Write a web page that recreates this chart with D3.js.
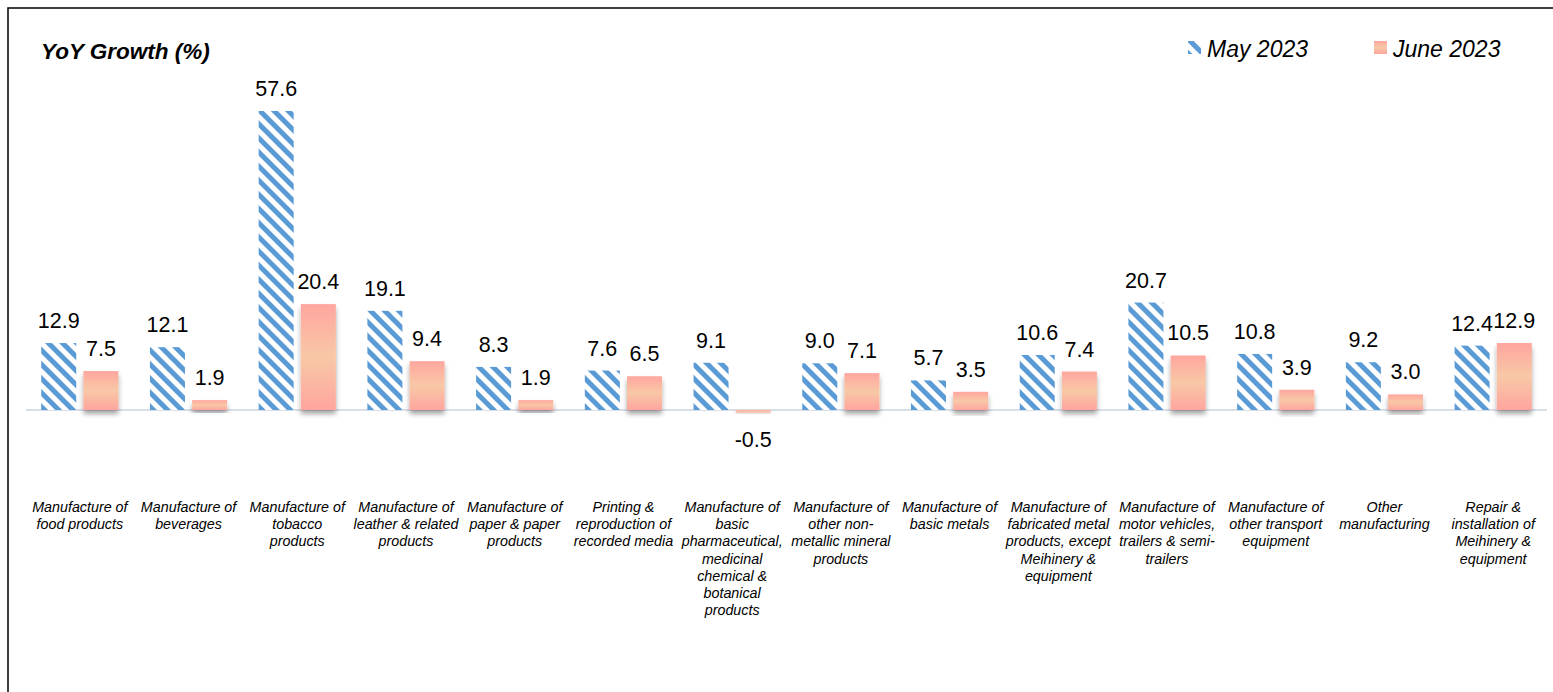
<!DOCTYPE html>
<html><head><meta charset="utf-8">
<script src="https://cdn.jsdelivr.net/npm/d3@7"></script>
<style>html,body{margin:0;padding:0;background:#fff;}svg{display:block;font-family:"Liberation Sans",Arial,sans-serif;}</style>
</head><body>
<svg id="chart" width="1553" height="692"></svg>
<script>
const categories = [
  ["Manufacture of","food products"],
  ["Manufacture of","beverages"],
  ["Manufacture of","tobacco","products"],
  ["Manufacture of","leather & related","products"],
  ["Manufacture of","paper & paper","products"],
  ["Printing &","reproduction of","recorded media"],
  ["Manufacture of","basic","pharmaceutical,","medicinal","chemical &","botanical","products"],
  ["Manufacture of","other non-","metallic mineral","products"],
  ["Manufacture of","basic metals"],
  ["Manufacture of","fabricated metal","products, except","Meihinery &","equipment"],
  ["Manufacture of","motor vehicles,","trailers & semi-","trailers"],
  ["Manufacture of","other transport","equipment"],
  ["Other","manufacturing"],
  ["Repair &","installation of","Meihinery &","equipment"]
];
const seriesNames = ["May 2023","June 2023"];
const may2023 = [12.9,12.1,57.6,19.1,8.3,7.6,9.1,9.0,5.7,10.6,20.7,10.8,9.2,12.4];
const june2023 = [7.5,1.9,20.4,9.4,1.9,6.5,-0.5,7.1,3.5,7.4,10.5,3.9,3.0,12.9];
const titleText = "YoY Growth (%)";

const svg = d3.select("#chart");
const defs = svg.append("defs");
const pat = defs.append("pattern").attr("id","hatch").attr("patternUnits","userSpaceOnUse")
  .attr("width",10).attr("height",10).attr("patternTransform","rotate(-45)");
pat.append("rect").attr("width",10).attr("height",10).attr("fill","#fff");
pat.append("rect").attr("x",0).attr("width",5).attr("height",10).attr("fill","#5B9BD5");
const grad = defs.append("linearGradient").attr("id","pinkGrad").attr("x1",0).attr("y1",0).attr("x2",0).attr("y2",1);
grad.append("stop").attr("offset","0%").attr("stop-color","#FFA69F");
grad.append("stop").attr("offset","50%").attr("stop-color","#F8C8A6");
grad.append("stop").attr("offset","100%").attr("stop-color","#FFA59F");
const filt = defs.append("filter").attr("id","shadow").attr("x","-20%").attr("y","-20%").attr("width","140%").attr("height","150%");
filt.append("feDropShadow").attr("dx",0).attr("dy",4).attr("stdDeviation",2.5).attr("flood-color","#000").attr("flood-opacity",0.35);

// border
svg.append("rect").attr("x",8).attr("y",8).attr("width",1600).attr("height",720)
  .attr("fill","none").attr("stroke","#000").attr("stroke-width",1.5);

const idx = d3.range(categories.length);
const x0 = d3.scaleBand().domain(idx).range([26,1547]).paddingInner(0.29).paddingOuter(0.14);
const x1 = d3.scaleBand().domain(seriesNames).range([0,x0.bandwidth()]).paddingInner(0.17);
const y = d3.scaleLinear().domain([0,57.6]).range([410,111]);

const data = idx.map(i => ({i, vals:[may2023[i], june2023[i]]}));

// zero line
svg.append("line").attr("x1",26).attr("x2",1547).attr("y1",y(0)).attr("y2",y(0))
  .attr("stroke","#D9DFE8").attr("stroke-width",2);

const g = svg.selectAll("g.grp").data(data).join("g").attr("class","grp")
  .attr("transform", d => `translate(${x0(d.i)},0)`);

g.append("rect")
  .attr("x", x1(seriesNames[0])).attr("width", x1.bandwidth())
  .attr("y", d => y(Math.max(0,d.vals[0]))).attr("height", d => Math.abs(y(d.vals[0])-y(0)))
  .attr("fill","url(#hatch)");
g.append("rect")
  .attr("x", x1(seriesNames[1])).attr("width", x1.bandwidth())
  .attr("y", d => y(Math.max(0,d.vals[1]))).attr("height", d => Math.max(1.5,Math.abs(y(d.vals[1])-y(0))))
  .attr("fill","url(#pinkGrad)").attr("filter","url(#shadow)");

[0,1].forEach(s => {
  g.append("text")
    .attr("x", x1(seriesNames[s]) + x1.bandwidth()/2)
    .attr("y", d => d.vals[s] >= 0 ? y(d.vals[s]) - 15 : y(d.vals[s]) + 34)
    .attr("text-anchor","middle").attr("font-size",21.5).attr("fill","#000")
    .text(d => d.vals[s].toFixed(1));
});

// category labels
g.append("text").attr("font-size",14.3).attr("font-style","italic").attr("fill","#000")
  .attr("text-anchor","middle")
  .selectAll("tspan").data(d => categories[d.i]).join("tspan")
  .attr("x", x0.bandwidth()/2).attr("y",(d,k)=>512 + k*17.2).text(d=>d);

// title
svg.append("text").attr("x",41).attr("y",59).attr("font-size",22.5).attr("font-weight","bold")
  .attr("font-style","italic").text(titleText);

// legend
const legX = [1188, 1374];
seriesNames.forEach((nm,s) => {
  svg.append("rect").attr("x",legX[s]).attr("y",41).attr("width",13).attr("height",13)
    .attr("fill", s===0 ? "url(#hatch)" : "url(#pinkGrad)");
  svg.append("text").attr("x",legX[s]+19).attr("y",57).attr("font-size",23).attr("font-style","italic")
    .text(nm);
});
</script>
</body></html>
